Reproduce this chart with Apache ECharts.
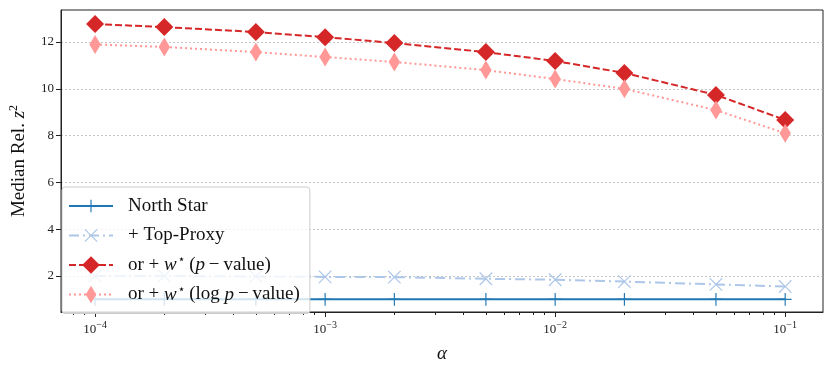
<!DOCTYPE html>
<html>
<head>
<meta charset="utf-8">
<script src="https://cdn.jsdelivr.net/npm/echarts@6/dist/echarts.min.js"></script>
<style>
  html, body { margin: 0; padding: 0; background: #fff; }
  #main { width: 830px; height: 372px; }
</style>
</head>
<body>
<div id="main"></div>
<script>
// alpha values (x)
var alphas = [1e-4, 2e-4, 5e-4, 1e-3, 2e-3, 5e-3, 1e-2, 2e-2, 5e-2, 1e-1];
// series values
var northStar = [1.0, 1.0, 1.0, 1.0, 1.0, 1.0, 1.0, 1.0, 1.0, 1.0];
var topProxy  = [2.0, 2.0, 1.98, 1.96, 1.95, 1.88, 1.84, 1.76, 1.64, 1.55];
var wPval     = [12.77, 12.64, 12.43, 12.21, 11.96, 11.57, 11.19, 10.68, 9.74, 8.67];
var wLogPval  = [11.9, 11.79, 11.57, 11.36, 11.15, 10.8, 10.42, 10.0, 9.09, 8.1];
// tick labels
var majorTicks = [1e-4, 1e-3, 1e-2, 1e-1];
var yTicks = [2, 4, 6, 8, 10, 12];

var minorTicks = [];
[-5, -4, -3, -2].forEach(function (e) {
    for (var m = 2; m <= 9; m++) {
        var v = m * Math.pow(10, e);
        if (v > 7.1e-5 && v < 0.146) minorTicks.push(v);
    }
});

function pairs(vals) {
    return alphas.map(function (a, i) { return [a, vals[i]]; });
}

// marker shapes (lone M points only pad the box, so legend icons keep the right size/shape)
var plusPath = 'path://M-1.4,-1.4 M1.4,1.4 M-0.09,-1 L0.09,-1 L0.09,-0.09 L1,-0.09 L1,0.09 L0.09,0.09 L0.09,1 L-0.09,1 L-0.09,0.09 L-1,0.09 L-1,-0.09 L-0.09,-0.09 Z';
var xPath = 'path://M-1.35,-1.35 M1.35,1.35 M-1,-0.87 L-0.87,-1 L0,-0.13 L0.87,-1 L1,-0.87 L0.13,0 L1,0.87 L0.87,1 L0,0.13 L-0.87,1 L-1,0.87 L-0.13,0 Z';
var thinDiamond = 'path://M-1,-1 M1,1 M0,-1 L0.6,0 L0,1 L-0.6,0 Z';

var serif = '"Liberation Serif", "DejaVu Serif", serif';
var rich = {
    i: { fontStyle: 'italic', fontFamily: serif, fontSize: 19, color: '#111' },
    st: { fontFamily: '"DejaVu Sans"', fontSize: 12, color: '#111', padding: [0, 4, 10, 1] }
};
var legendNames = {
    'North Star': 'North Star',
    '+ Top-Proxy': '+ Top-Proxy',
    'or + w (p-value)': 'or + {i|w}{st|⋆}({i|p}\u2009−\u2009value)',
    'or + w (log p-value)': 'or + {i|w}{st|⋆}(log {i|p}\u2009−\u2009value)'
};

var chart = echarts.init(document.getElementById('main'));
chart.setOption({
    animation: false,
    textStyle: { fontFamily: serif },
    grid: { left: 61, right: 7, top: 10, bottom: 60, show: true, borderColor: '#222', borderWidth: 1 },
    legend: {
        orient: 'vertical',
        left: 62,
        top: 187,
        padding: [8, 10, 8, 6],
        itemWidth: 44,
        itemHeight: 22,
        itemGap: 7.5,
        backgroundColor: 'rgba(255,255,255,0.8)',
        borderColor: '#cccccc',
        borderWidth: 1,
        borderRadius: 3,
        textStyle: { fontFamily: serif, fontSize: 19, color: '#111', rich: rich, padding: [0, 0, 0, 10], lineHeight: 22 },
        formatter: function (name) { return legendNames[name]; },
        data: ['North Star', '+ Top-Proxy', 'or + w (p-value)', 'or + w (log p-value)']
    },
    xAxis: [{
        type: 'log',
        logBase: 10,
        min: 7.11e-5,
        max: 0.146,
        name: 'α',
        nameLocation: 'middle',
        nameGap: 32,
        nameTextStyle: { fontFamily: serif, fontStyle: 'italic', fontSize: 19, color: '#111' },
        axisLine: { show: true, lineStyle: { color: '#222', width: 1 } },
        axisTick: { show: true, length: 5, lineStyle: { color: '#222' }, customValues: majorTicks },
        axisLabel: {
            customValues: majorTicks,
            fontSize: 13,
            color: '#222',
            margin: 8,
            formatter: function (v) {
                return '10{s|−' + Math.round(-Math.log10(v)) + '}';
            },
            rich: { s: { fontSize: 10, padding: [0, 0, 9, 0], color: '#222' } }
        },
        splitLine: { show: false },
        minorTick: { show: false }
    }, {
        type: 'log',
        logBase: 10,
        min: 7.11e-5,
        max: 0.146,
        position: 'bottom',
        axisLine: { show: false },
        axisTick: { show: true, length: 3, lineStyle: { color: '#222' }, customValues: minorTicks },
        axisLabel: { show: false },
        splitLine: { show: false }
    }],
    yAxis: {
        type: 'value',
        min: 0.46,
        max: 13.37,
        name: 'Median Rel. {i|z}{s|2}',
        nameLocation: 'middle',
        nameGap: 31,
        nameTextStyle: {
            fontFamily: serif, fontSize: 19, color: '#111',
            rich: {
                i: { fontStyle: 'italic', fontFamily: serif, fontSize: 19, color: '#111' },
                s: { fontSize: 12, fontFamily: serif, color: '#111', padding: [0, 0, 10, 0] }
            }
        },
        axisLine: { show: true, lineStyle: { color: '#222', width: 1 } },
        axisTick: { show: true, length: 5, lineStyle: { color: '#222' }, customValues: yTicks },
        axisLabel: { customValues: yTicks, fontSize: 13, color: '#222', margin: 7 },
        splitLine: { show: true, lineStyle: { color: '#b8b8b8', width: 0.8, type: [2, 2] } }
    },
    series: [{
        name: 'North Star',
        type: 'line',
        data: pairs(northStar),
        symbol: plusPath,
        symbolSize: 18,
        symbolKeepAspect: true,
        lineStyle: { color: '#1f77b4', width: 2 },
        itemStyle: { color: '#1f77b4' },
        z: 2
    }, {
        name: '+ Top-Proxy',
        type: 'line',
        data: pairs(topProxy),
        symbol: xPath,
        symbolSize: 18,
        symbolKeepAspect: true,
        lineStyle: { color: '#aec7e8', width: 2, type: [10, 4, 2, 4] },
        itemStyle: { color: '#aec7e8' },
        z: 3
    }, {
        name: 'or + w (p-value)',
        type: 'line',
        data: pairs(wPval),
        symbol: 'diamond',
        symbolSize: [18, 18],
        lineStyle: { color: '#d62728', width: 2, type: [7, 3] },
        itemStyle: { color: '#d62728' },
        z: 4
    }, {
        name: 'or + w (log p-value)',
        type: 'line',
        data: pairs(wLogPval),
        symbol: thinDiamond,
        symbolSize: 19,
        symbolKeepAspect: true,
        lineStyle: { color: '#ff9896', width: 2, type: [2, 3] },
        itemStyle: { color: '#ff9896' },
        z: 5
    }]
});
</script>
</body>
</html>
